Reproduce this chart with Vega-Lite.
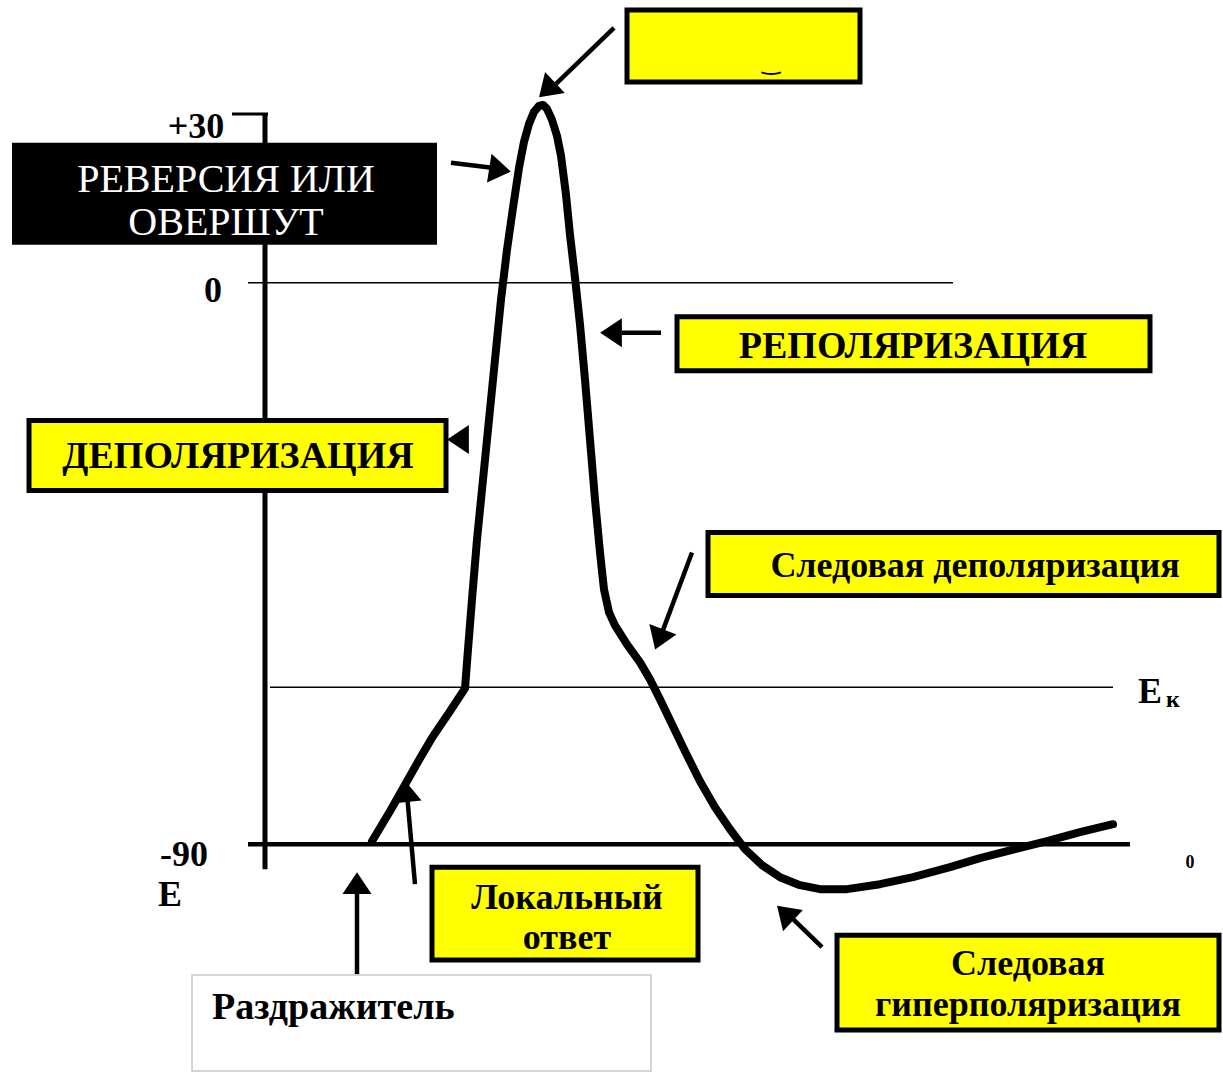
{
  "$schema": "https://vega.github.io/schema/vega-lite/v6.json",
  "width": 1223,
  "height": 1072,
  "autosize": {"type": "fit", "contains": "padding"},
  "padding": 0,
  "background": "white",
  "config": {"view": {"stroke": null}},
  "datasets": {
    "curve": [
      {"x":372,"y":842},{"x":390,"y":812},{"x":407,"y":782},{"x":420,"y":759},{"x":433,"y":737},{"x":450,"y":712},{"x":465,"y":689},
      {"x":468,"y":650},{"x":472,"y":600},{"x":477,"y":540},{"x":483,"y":480},{"x":489,"y":420},{"x":495,"y":360},{"x":501,"y":300},
      {"x":507,"y":250},{"x":513,"y":208},{"x":519,"y":168},{"x":524,"y":142},{"x":529,"y":124},{"x":534,"y":112},{"x":539,"y":106},{"x":543,"y":105},{"x":547,"y":109},
      {"x":552,"y":120},{"x":557,"y":136},{"x":561,"y":156},{"x":566,"y":195},{"x":570,"y":235},{"x":575,"y":278},{"x":580,"y":325},
      {"x":585,"y":380},{"x":590,"y":440},{"x":595,"y":500},{"x":600,"y":553},{"x":604,"y":590},{"x":609,"y":613},{"x":615,"y":626},
      {"x":627,"y":645},{"x":640,"y":663},{"x":650,"y":680},{"x":660,"y":700},{"x":672,"y":725},{"x":685,"y":752},{"x":700,"y":782},
      {"x":715,"y":808},{"x":730,"y":830},{"x":745,"y":850},{"x":762,"y":866},{"x":780,"y":878},{"x":800,"y":886},{"x":820,"y":890},
      {"x":847,"y":890},{"x":880,"y":885},{"x":913,"y":878},{"x":950,"y":868},{"x":980,"y":859},{"x":1015,"y":850},{"x":1047,"y":842},
      {"x":1080,"y":833},{"x":1113,"y":825}
    ],
    "thinLines": [{"x":248,"x2":953,"y":283},{"x":270,"x2":1113,"y":688}],
    "baseLine": [{"x":248,"x2":1130,"y":845}],
    "axisLine": [{"x":265,"y":113,"y2":870}],
    "topTick": [{"x":232,"x2":268,"y":114}],
    "shafts": [
      {"x":614,"y":28,"x2":556,"y2":84},
      {"x":451,"y":163,"x2":492,"y2":168},
      {"x":622,"y":333,"x2":661,"y2":333},
      {"x":692,"y":553,"x2":661,"y2":636},
      {"x":415,"y":885,"x2":407,"y2":795},
      {"x":357,"y":975,"x2":357,"y2":890},
      {"x":822,"y":948,"x2":790,"y2":917}
    ],
    "heads": [
      {"x":547,"y":90,"angle":227},
      {"x":500,"y":170,"angle":99},
      {"x":611,"y":333,"angle":270},
      {"x":458,"y":440,"angle":270},
      {"x":659,"y":640,"angle":201},
      {"x":406,"y":792,"angle":354},
      {"x":357,"y":884,"angle":0},
      {"x":785,"y":914,"angle":313}
    ],
    "yellowBoxes": [
      {"x":627,"x2":860,"y":10,"y2":82},
      {"x":677,"x2":1150,"y":317,"y2":371},
      {"x":29,"x2":446,"y":421,"y2":491},
      {"x":708,"x2":1219,"y":533,"y2":596},
      {"x":432,"x2":698,"y":868,"y2":961},
      {"x":837,"x2":1219,"y":936,"y2":1031}
    ],
    "blackBox": [{"x":12,"x2":437,"y":143,"y2":245}],
    "whiteBox": [{"x":192,"x2":651,"y":976,"y2":1072}],
    "axisText": [
      {"label":"+30","x":196,"y":127},
      {"label":"0","x":213,"y":291},
      {"label":"-90","x":184,"y":856},
      {"label":"E","x":170,"y":896},
      {"label":"E","x":1150,"y":693}
    ],
    "subText": [{"label":"к","x":1173,"y":701}],
    "smallZero": [{"label":"0","x":1190,"y":864}],
    "capsText": [
      {"label":"РЕПОЛЯРИЗАЦИЯ","x":913,"y":347},
      {"label":"ДЕПОЛЯРИЗАЦИЯ","x":238,"y":457}
    ],
    "boxText": [
      {"label":"Следовая деполяризация","x":975,"y":567},
      {"label":"Локальный","x":567,"y":899},
      {"label":"ответ","x":567,"y":939},
      {"label":"Следовая","x":1028,"y":965},
      {"label":"гиперполяризация","x":1028,"y":1006}
    ],
    "whiteText": [
      {"label":"РЕВЕРСИЯ ИЛИ","x":226,"y":180},
      {"label":"ОВЕРШУТ","x":226,"y":223}
    ],
    "stimText": [{"label":"Раздражитель","x":212,"y":1009}],
    "topGlyph": [{"label":"‿","x":771,"y":64}]
  },
  "layer": [
    {
      "data": {"name": "whiteBox"},
      "mark": {"type": "rect", "fill": "white", "stroke": "#c8c8c8", "strokeWidth": 1.5},
      "encoding": {
        "x": {"field": "x", "type": "quantitative", "scale": {"domain": [0, 1223], "nice": false, "zero": false}, "axis": null},
        "x2": {"field": "x2"},
        "y": {"field": "y", "type": "quantitative", "scale": {"domain": [0, 1072], "nice": false, "zero": false, "reverse": true}, "axis": null},
        "y2": {"field": "y2"}
      }
    },
    {
      "data": {"name": "thinLines"},
      "mark": {"type": "rule", "color": "black", "strokeWidth": 1.5},
      "encoding": {"x": {"field": "x", "type": "quantitative"}, "x2": {"field": "x2"}, "y": {"field": "y", "type": "quantitative"}}
    },
    {
      "data": {"name": "baseLine"},
      "mark": {"type": "rule", "color": "black", "strokeWidth": 4.5},
      "encoding": {"x": {"field": "x", "type": "quantitative"}, "x2": {"field": "x2"}, "y": {"field": "y", "type": "quantitative"}}
    },
    {
      "data": {"name": "axisLine"},
      "mark": {"type": "rule", "color": "black", "strokeWidth": 5},
      "encoding": {"x": {"field": "x", "type": "quantitative"}, "y": {"field": "y", "type": "quantitative"}, "y2": {"field": "y2"}}
    },
    {
      "data": {"name": "topTick"},
      "mark": {"type": "rule", "color": "black", "strokeWidth": 3},
      "encoding": {"x": {"field": "x", "type": "quantitative"}, "x2": {"field": "x2"}, "y": {"field": "y", "type": "quantitative"}}
    },
    {
      "data": {"name": "blackBox"},
      "mark": {"type": "rect", "fill": "black"},
      "encoding": {"x": {"field": "x", "type": "quantitative"}, "x2": {"field": "x2"}, "y": {"field": "y", "type": "quantitative"}, "y2": {"field": "y2"}}
    },
    {
      "data": {"name": "yellowBoxes"},
      "mark": {"type": "rect", "fill": "#ffff00", "stroke": "black", "strokeWidth": 5},
      "encoding": {"x": {"field": "x", "type": "quantitative"}, "x2": {"field": "x2"}, "y": {"field": "y", "type": "quantitative"}, "y2": {"field": "y2"}}
    },
    {
      "data": {"name": "curve"},
      "mark": {"type": "line", "color": "black", "strokeWidth": 8, "interpolate": "linear", "strokeCap": "round", "strokeJoin": "round"},
      "encoding": {"x": {"field": "x", "type": "quantitative"}, "y": {"field": "y", "type": "quantitative"}}
    },
    {
      "data": {"name": "shafts"},
      "mark": {"type": "rule", "color": "black", "strokeWidth": 4.5},
      "encoding": {"x": {"field": "x", "type": "quantitative"}, "x2": {"field": "x2"}, "y": {"field": "y", "type": "quantitative"}, "y2": {"field": "y2"}}
    },
    {
      "data": {"name": "heads"},
      "mark": {"type": "point", "shape": "M0,-0.75L1,0.75L-1,0.75Z", "filled": true, "fill": "black", "stroke": null, "opacity": 1, "size": 841},
      "encoding": {"x": {"field": "x", "type": "quantitative"}, "y": {"field": "y", "type": "quantitative"}, "angle": {"field": "angle", "type": "quantitative", "scale": null}}
    },
    {
      "data": {"name": "axisText"},
      "mark": {"type": "text", "font": "Liberation Serif", "fontWeight": "bold", "fontSize": 36, "align": "center", "baseline": "middle", "color": "black"},
      "encoding": {"x": {"field": "x", "type": "quantitative"}, "y": {"field": "y", "type": "quantitative"}, "text": {"field": "label"}}
    },
    {
      "data": {"name": "subText"},
      "mark": {"type": "text", "font": "Liberation Serif", "fontWeight": "bold", "fontSize": 24, "align": "center", "baseline": "middle", "color": "black"},
      "encoding": {"x": {"field": "x", "type": "quantitative"}, "y": {"field": "y", "type": "quantitative"}, "text": {"field": "label"}}
    },
    {
      "data": {"name": "smallZero"},
      "mark": {"type": "text", "font": "Liberation Serif", "fontWeight": "bold", "fontSize": 18, "align": "center", "baseline": "middle", "color": "black"},
      "encoding": {"x": {"field": "x", "type": "quantitative"}, "y": {"field": "y", "type": "quantitative"}, "text": {"field": "label"}}
    },
    {
      "data": {"name": "capsText"},
      "mark": {"type": "text", "font": "Liberation Serif", "fontWeight": "bold", "fontSize": 38, "align": "center", "baseline": "middle", "color": "black"},
      "encoding": {"x": {"field": "x", "type": "quantitative"}, "y": {"field": "y", "type": "quantitative"}, "text": {"field": "label"}}
    },
    {
      "data": {"name": "boxText"},
      "mark": {"type": "text", "font": "Liberation Serif", "fontWeight": "bold", "fontSize": 36, "align": "center", "baseline": "middle", "color": "black"},
      "encoding": {"x": {"field": "x", "type": "quantitative"}, "y": {"field": "y", "type": "quantitative"}, "text": {"field": "label"}}
    },
    {
      "data": {"name": "whiteText"},
      "mark": {"type": "text", "font": "Liberation Serif", "fontSize": 40, "align": "center", "baseline": "middle", "color": "white"},
      "encoding": {"x": {"field": "x", "type": "quantitative"}, "y": {"field": "y", "type": "quantitative"}, "text": {"field": "label"}}
    },
    {
      "data": {"name": "stimText"},
      "mark": {"type": "text", "font": "Liberation Serif", "fontWeight": "bold", "fontSize": 38, "align": "left", "baseline": "middle", "color": "black"},
      "encoding": {"x": {"field": "x", "type": "quantitative"}, "y": {"field": "y", "type": "quantitative"}, "text": {"field": "label"}}
    },
    {
      "data": {"name": "topGlyph"},
      "mark": {"type": "text", "font": "DejaVu Sans", "fontWeight": "bold", "fontSize": 22, "align": "center", "baseline": "middle", "color": "black"},
      "encoding": {"x": {"field": "x", "type": "quantitative"}, "y": {"field": "y", "type": "quantitative"}, "text": {"field": "label"}}
    }
  ]
}
